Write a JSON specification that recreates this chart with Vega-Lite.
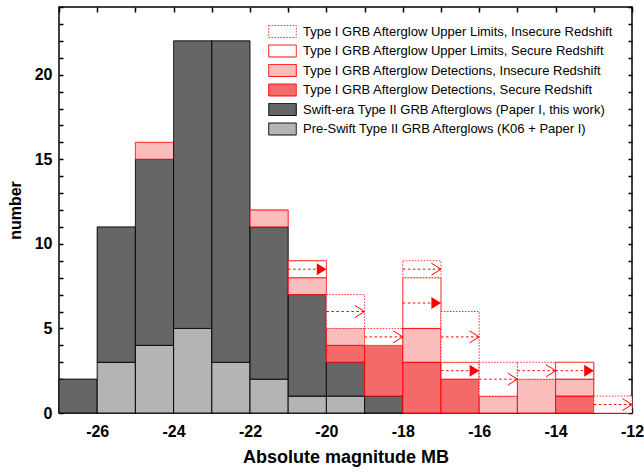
{
  "$schema": "https://vega.github.io/schema/vega-lite/v6.json",
  "width": 573,
  "height": 406,
  "autosize": "none",
  "padding": {"left": 59, "top": 7, "right": 12, "bottom": 60},
  "background": "white",
  "config": {
    "view": {"stroke": "black", "strokeWidth": 1.5},
    "axis": {
      "labelFont": "Liberation Sans", "labelFontSize": 16, "labelFontWeight": "bold", "labelColor": "black",
      "titleFont": "Liberation Sans", "titleFontWeight": "bold", "titleColor": "black",
      "tickColor": "black", "tickWidth": 1.5, "grid": false, "domain": false
    },
    "legend": {"labelFont": "Liberation Sans", "labelFontSize": 13, "labelColor": "black"}
  },
  "datasets": {
    "cats": [
      {"cat": "pre", "label": "Pre-Swift Type II GRB Afterglows (K06 + Paper I)", "k": 0},
      {"cat": "swift", "label": "Swift-era Type II GRB Afterglows (Paper I, this work)", "k": 1},
      {"cat": "detS", "label": "Type I GRB Afterglow Detections, Secure Redshift", "k": 2},
      {"cat": "detI", "label": "Type I GRB Afterglow Detections, Insecure Redshift", "k": 3},
      {"cat": "ulS", "label": "Type I GRB Afterglow Upper Limits, Secure Redshift", "k": 4},
      {"cat": "ulI", "label": "Type I GRB Afterglow Upper Limits, Insecure Redshift", "k": 5}
    ]
  },
  "data": {"values": [
    {"lo": -27, "hi": -26, "cat": "swift", "n": 2},
    {"lo": -26, "hi": -25, "cat": "pre", "n": 3},
    {"lo": -26, "hi": -25, "cat": "swift", "n": 8},
    {"lo": -25, "hi": -24, "cat": "pre", "n": 4},
    {"lo": -25, "hi": -24, "cat": "swift", "n": 11},
    {"lo": -25, "hi": -24, "cat": "detI", "n": 1},
    {"lo": -24, "hi": -23, "cat": "pre", "n": 5},
    {"lo": -24, "hi": -23, "cat": "swift", "n": 17},
    {"lo": -23, "hi": -22, "cat": "pre", "n": 3},
    {"lo": -23, "hi": -22, "cat": "swift", "n": 19},
    {"lo": -22, "hi": -21, "cat": "pre", "n": 2},
    {"lo": -22, "hi": -21, "cat": "swift", "n": 9},
    {"lo": -22, "hi": -21, "cat": "detI", "n": 1},
    {"lo": -21, "hi": -20, "cat": "pre", "n": 1},
    {"lo": -21, "hi": -20, "cat": "swift", "n": 6},
    {"lo": -21, "hi": -20, "cat": "detI", "n": 1},
    {"lo": -21, "hi": -20, "cat": "ulS", "n": 1},
    {"lo": -20, "hi": -19, "cat": "pre", "n": 1},
    {"lo": -20, "hi": -19, "cat": "swift", "n": 2},
    {"lo": -20, "hi": -19, "cat": "detS", "n": 1},
    {"lo": -20, "hi": -19, "cat": "detI", "n": 1},
    {"lo": -20, "hi": -19, "cat": "ulI", "n": 2},
    {"lo": -19, "hi": -18, "cat": "swift", "n": 1},
    {"lo": -19, "hi": -18, "cat": "detS", "n": 3},
    {"lo": -19, "hi": -18, "cat": "ulI", "n": 1},
    {"lo": -18, "hi": -17, "cat": "detS", "n": 3},
    {"lo": -18, "hi": -17, "cat": "detI", "n": 2},
    {"lo": -18, "hi": -17, "cat": "ulS", "n": 3},
    {"lo": -18, "hi": -17, "cat": "ulI", "n": 1},
    {"lo": -17, "hi": -16, "cat": "detS", "n": 2},
    {"lo": -17, "hi": -16, "cat": "ulS", "n": 1},
    {"lo": -17, "hi": -16, "cat": "ulI", "n": 3},
    {"lo": -16, "hi": -15, "cat": "detI", "n": 1},
    {"lo": -16, "hi": -15, "cat": "ulI", "n": 2},
    {"lo": -15, "hi": -14, "cat": "detI", "n": 2},
    {"lo": -15, "hi": -14, "cat": "ulI", "n": 1},
    {"lo": -14, "hi": -13, "cat": "detS", "n": 1},
    {"lo": -14, "hi": -13, "cat": "detI", "n": 1},
    {"lo": -14, "hi": -13, "cat": "ulS", "n": 1},
    {"lo": -13, "hi": -12, "cat": "ulI", "n": 1}
  ]},
  "transform": [
    {"lookup": "cat", "from": {"data": {"name": "cats"}, "key": "cat", "fields": ["label", "k"]}},
    {"stack": "n", "groupby": ["lo"], "sort": [{"field": "k", "order": "ascending"}], "as": ["y0", "y1"]},
    {"calculate": "(datum.y0 + datum.y1) / 2", "as": "mid"}
  ],
  "resolve": {"axis": {"x": "independent", "y": "independent"}},
  "layer": [
    {
      "mark": {"type": "bar", "strokeWidth": 1, "opacity": 1},
      "encoding": {
        "x": {"field": "lo", "type": "quantitative",
          "scale": {"domain": [-27, -12], "nice": false, "zero": false},
          "axis": {"orient": "bottom", "values": [-27,-26,-25,-24,-23,-22,-21,-20,-19,-18,-17,-16,-15,-14,-13,-12],
            "labelExpr": "datum.value % 2 === 0 ? '' + datum.value : ''",
            "tickSize": -5, "labelPadding": 15, "labelFlush": false,
            "title": "Absolute magnitude MB", "titleFontSize": 18, "titlePadding": 9}},
        "x2": {"field": "hi"},
        "y": {"field": "y0", "type": "quantitative",
          "scale": {"domain": [0, 24], "nice": false, "zero": true},
          "axis": {"orient": "left", "values": [0,1,2,3,4,5,6,7,8,9,10,11,12,13,14,15,16,17,18,19,20,21,22,23,24],
            "labelExpr": "datum.value % 5 === 0 ? '' + datum.value : ''",
            "tickSize": -4, "labelPadding": 11,
            "title": "number", "titleFontSize": 16, "titlePadding": 11,
            "encode": {"ticks": {"update": {"x2": {"signal": "datum.value % 5 === 0 ? 7 : 4"}}}}}},
        "y2": {"field": "y1"},
        "fill": {"field": "label", "type": "nominal",
          "scale": {
            "domain": [
              "Type I GRB Afterglow Upper Limits, Insecure Redshift",
              "Type I GRB Afterglow Upper Limits, Secure Redshift",
              "Type I GRB Afterglow Detections, Insecure Redshift",
              "Type I GRB Afterglow Detections, Secure Redshift",
              "Swift-era Type II GRB Afterglows (Paper I, this work)",
              "Pre-Swift Type II GRB Afterglows (K06 + Paper I)"
            ],
            "range": ["#ffffff", "#ffffff", "#fbbcbc", "#f46a6a", "#666666", "#b4b4b4"]
          },
          "legend": {"title": null, "orient": "none", "legendX": 217, "legendY": 18, "padding": 0,
            "symbolType": "M-2.3,-1H2.3V1H-2.3Z", "symbolSize": 144, "symbolStrokeWidth": 1,
            "labelOffset": 14, "rowPadding": 2.5, "labelLimit": 400}},
        "stroke": {"field": "label", "type": "nominal",
          "scale": {
            "domain": [
              "Type I GRB Afterglow Upper Limits, Insecure Redshift",
              "Type I GRB Afterglow Upper Limits, Secure Redshift",
              "Type I GRB Afterglow Detections, Insecure Redshift",
              "Type I GRB Afterglow Detections, Secure Redshift",
              "Swift-era Type II GRB Afterglows (Paper I, this work)",
              "Pre-Swift Type II GRB Afterglows (K06 + Paper I)"
            ],
            "range": ["#ff3030", "#ff0000", "#ff0000", "#ff0000", "#000000", "#000000"]
          },
          "legend": {"title": null, "orient": "none", "legendX": 217, "legendY": 18, "padding": 0,
            "symbolType": "M-2.3,-1H2.3V1H-2.3Z", "symbolSize": 144, "symbolStrokeWidth": 1,
            "labelOffset": 14, "rowPadding": 2.5, "labelLimit": 400}},
        "strokeDash": {"field": "label", "type": "nominal",
          "scale": {
            "domain": [
              "Type I GRB Afterglow Upper Limits, Insecure Redshift",
              "Type I GRB Afterglow Upper Limits, Secure Redshift",
              "Type I GRB Afterglow Detections, Insecure Redshift",
              "Type I GRB Afterglow Detections, Secure Redshift",
              "Swift-era Type II GRB Afterglows (Paper I, this work)",
              "Pre-Swift Type II GRB Afterglows (K06 + Paper I)"
            ],
            "range": [[1.5, 1.5], [1, 0], [1, 0], [1, 0], [1, 0], [1, 0]]
          },
          "legend": {"title": null, "orient": "none", "legendX": 217, "legendY": 18, "padding": 0,
            "symbolType": "M-2.3,-1H2.3V1H-2.3Z", "symbolSize": 144, "symbolStrokeWidth": 1,
            "labelOffset": 14, "rowPadding": 2.5, "labelLimit": 400}}
      }
    },
    {
      "transform": [{"filter": "datum.cat === 'ulS' || datum.cat === 'ulI'"}],
      "mark": {"type": "rule", "color": "#ff0000", "strokeWidth": 1, "strokeDash": [2.5, 2.5]},
      "encoding": {
        "x": {"field": "lo", "type": "quantitative",
          "axis": {"orient": "top", "values": [-27,-26,-25,-24,-23,-22,-21,-20,-19,-18,-17,-16,-15,-14,-13,-12],
            "labels": false, "tickSize": -5, "title": null}},
        "x2": {"field": "hi"},
        "y": {"field": "mid", "type": "quantitative",
          "axis": {"orient": "right", "values": [0,1,2,3,4,5,6,7,8,9,10,11,12,13,14,15,16,17,18,19,20,21,22,23,24],
            "labels": false, "tickSize": -4, "title": null,
            "encode": {"ticks": {"update": {"x2": {"signal": "datum.value % 5 === 0 ? -7 : -4"}}}}}}
      }
    },
    {
      "transform": [{"filter": "datum.cat === 'ulS'"}],
      "mark": {"type": "point", "shape": "M-1.6,-1L0,0L-1.6,1Z", "filled": true, "color": "#ff0000", "size": 144, "opacity": 1},
      "encoding": {
        "x": {"field": "hi", "type": "quantitative", "axis": null},
        "y": {"field": "mid", "type": "quantitative", "axis": null}
      }
    },
    {
      "transform": [{"filter": "datum.cat === 'ulI'"}],
      "mark": {"type": "point", "shape": "M-1.6,-1L0,0L-1.6,1", "filled": false, "color": "#ff0000", "strokeWidth": 1, "size": 144, "opacity": 1},
      "encoding": {
        "x": {"field": "hi", "type": "quantitative", "axis": null},
        "y": {"field": "mid", "type": "quantitative", "axis": null}
      }
    }
  ]
}
